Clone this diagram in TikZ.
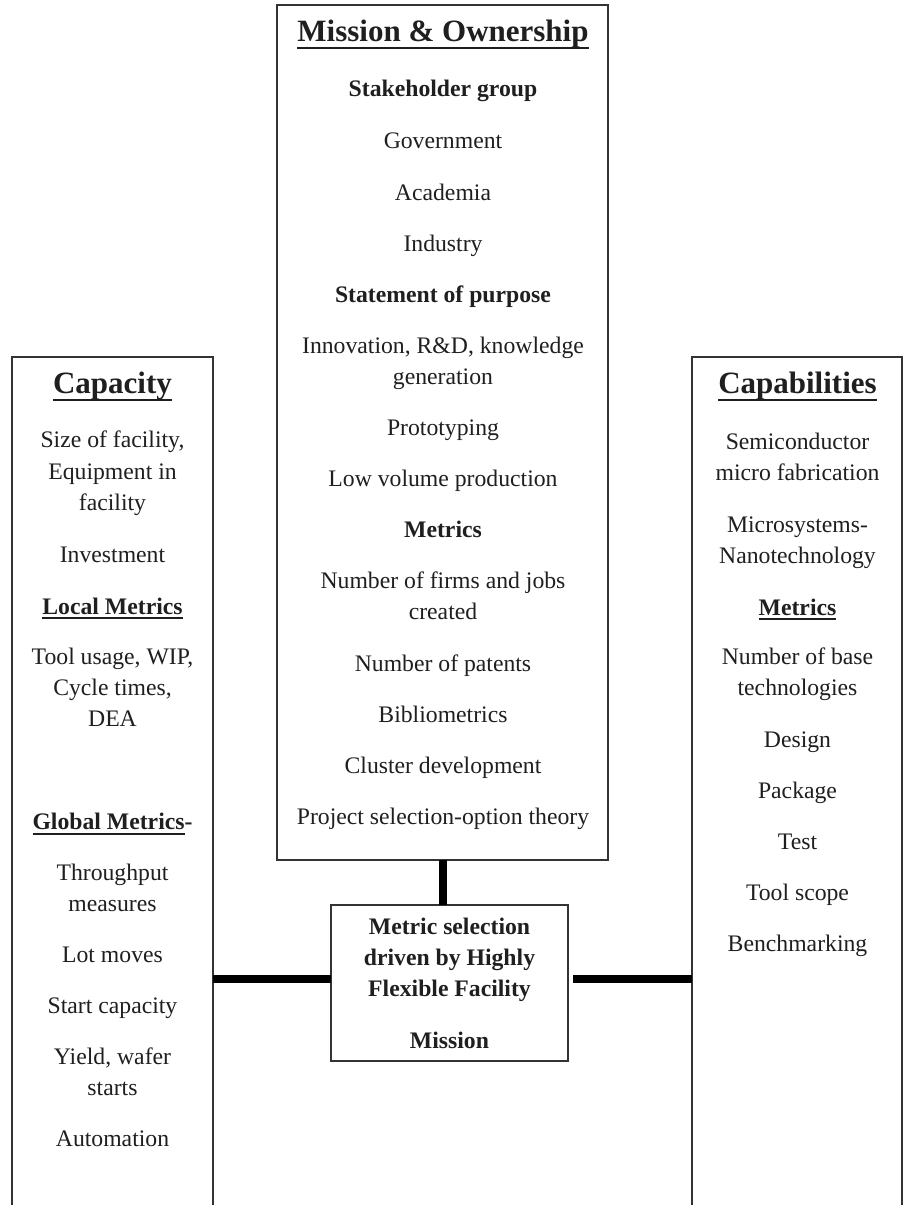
\documentclass[tikz,border=0pt]{standalone}
\usepackage{fontspec}
\setmainfont{Liberation Serif}
\newcommand\myul[2]{\setbox0=\hbox{#2}\rlap{\rule[-#1]{\wd0}{1.8pt}}\box0}
\begin{document}
\begin{tikzpicture}[x=1pt,y=-1pt,
  boxnode/.style={draw=black!80, line width=1.8pt, inner sep=0pt, outer sep=0pt},
  framenode/.style={inner sep=0pt, outer sep=0pt},
  frameline/.style={draw=black!80, line width=1.8pt},
  conn/.style={line width=7.5pt, draw=black},
  txt/.style={anchor=base, inner sep=0pt, text=black!88, font=\fontsize{23.7}{31}\selectfont},
  btxt/.style={txt, font=\fontsize{23.7}{31}\selectfont\bfseries},
  head/.style={txt, font=\fontsize{31}{37}\selectfont\bfseries}]
\useasboundingbox (0,0) rectangle (904,1205);
\fill[white] (0,0) rectangle (904,1205);

% boxes
\node[boxnode, minimum width=331pt, minimum height=855pt] (mission) at (442.5,432.5) {};
\node[boxnode, minimum width=237pt, minimum height=156pt] (mid) at (449.5,983) {};
\node[framenode, minimum width=201pt, minimum height=860pt, anchor=north] (capa) at (112.5,357) {};
\node[framenode, minimum width=210pt, minimum height=860pt, anchor=north] (capb) at (797,357) {};
\draw[frameline] (capa.south west) -- (capa.north west) -- (capa.north east) -- (capa.south east);
\draw[frameline] (capb.south west) -- (capb.north west) -- (capb.north east) -- (capb.south east);

% connectors
\coordinate (hl) at (0,979);
\path (mission.south) ++(0.5,0) coordinate (vs);
\draw[conn] (vs) -- (vs |- mid.north);
\draw[conn] (capa.east |- hl) -- (mid.west |- hl);
\draw[conn, shorten <=5pt] (mid.east |- hl) -- (capb.west |- hl);

% top box text
\node[head] (t0) at (443,41) {\myul{8pt}{Mission \& Ownership}};
\node[btxt] (t1) at (443,96) {Stakeholder group};
\node[txt] (t2) at (443,148.5) {Government};
\node[txt] (t3) at (443,200) {Academia};
\node[txt] (t4) at (443,251) {Industry};
\node[btxt] (t5) at (443,302.5) {Statement of purpose};
\node[txt] (t6) at (443,353.5) {Innovation, R\&D, knowledge};
\node[txt] (t6b) at (443,384.5) {generation};
\node[txt] (t7) at (443,435.5) {Prototyping};
\node[txt] (t8) at (443,486.5) {Low volume production};
\node[btxt] (t9) at (443,537.5) {Metrics};
\node[txt] (t10) at (443,588.5) {Number of firms and jobs};
\node[txt] (t10b) at (443,619.5) {created};
\node[txt] (t11) at (443,671) {Number of patents};
\node[txt] (t12) at (443,722) {Bibliometrics};
\node[txt] (t13) at (443,773) {Cluster development};
\node[txt] (t14) at (443,824.5) {Project selection-option theory};

% left box text
\node[head] (l0) at (112.5,393) {\myul{8pt}{Capacity}};
\node[txt] (l1) at (112.5,447.5) {Size of facility,};
\node[txt] (l1b) at (112.5,479) {Equipment in};
\node[txt] (l1c) at (112.5,510) {facility};
\node[txt] (l2) at (112.5,562) {Investment};
\node[btxt] (l3) at (112.5,614) {\myul{5pt}{Local Metrics}};
\node[txt] (l4) at (112.5,664.5) {Tool usage, WIP,};
\node[txt] (l4b) at (112.5,695) {Cycle times,};
\node[txt] (l4c) at (112.5,726) {DEA};
\node[btxt] (l5) at (112.5,829.5) {\myul{5pt}{Global Metrics}-};
\node[txt] (l6) at (112.5,880) {Throughput};
\node[txt] (l6b) at (112.5,911) {measures};
\node[txt] (l7) at (112.5,962) {Lot moves};
\node[txt] (l8) at (112.5,1013) {Start capacity};
\node[txt] (l9) at (112.5,1064) {Yield, wafer};
\node[txt] (l9b) at (112.5,1095) {starts};
\node[txt] (l10) at (112.5,1146) {Automation};

% right box text
\node[head] (r0) at (797.5,393) {\myul{8pt}{Capabilities}};
\node[txt] (r1) at (797.5,449.5) {Semiconductor};
\node[txt] (r1b) at (797.5,480.5) {micro fabrication};
\node[txt] (r2) at (797.5,532) {Microsystems-};
\node[txt] (r2b) at (797.5,563) {Nanotechnology};
\node[btxt] (r3) at (797.5,615) {\myul{5pt}{Metrics}};
\node[txt] (r4) at (797.5,664.5) {Number of base};
\node[txt] (r4b) at (797.5,695.5) {technologies};
\node[txt] (r5) at (797.5,747) {Design};
\node[txt] (r6) at (797.5,798) {Package};
\node[txt] (r7) at (797.5,849) {Test};
\node[txt] (r8) at (797.5,900) {Tool scope};
\node[txt] (r9) at (797.5,951.5) {Benchmarking};

% middle box text
\node[btxt] (m1) at (449.5,934.5) {Metric selection};
\node[btxt] (m2) at (449.5,965.5) {driven by Highly};
\node[btxt] (m3) at (449.5,996.5) {Flexible Facility};
\node[btxt] (m4) at (449.5,1048) {Mission};
\end{tikzpicture}
\end{document}
